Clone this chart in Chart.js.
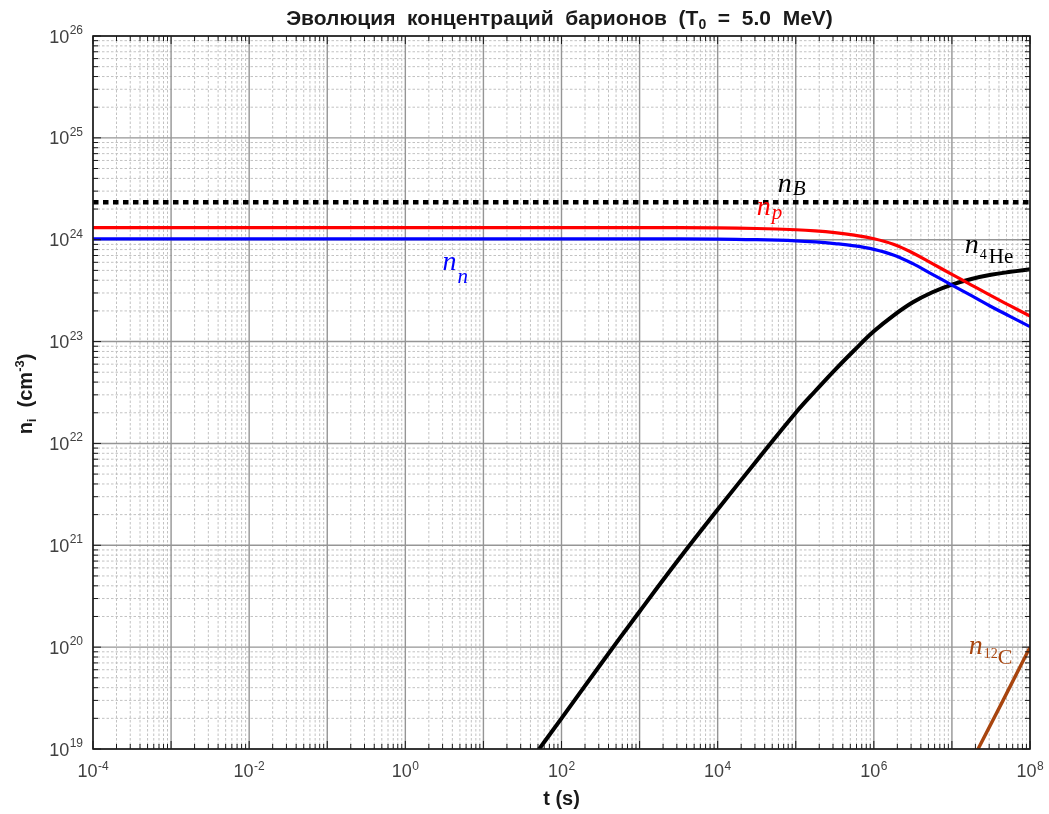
<!DOCTYPE html>
<html>
<head>
<meta charset="utf-8">
<script src="https://cdn.jsdelivr.net/npm/chart.js@4.4.1/dist/chart.umd.min.js"></script>
<style>
  html, body { margin: 0; padding: 0; background: #ffffff; }
  canvas { display: block; }
</style>
</head>
<body>
<canvas id="chart" width="1049" height="814"></canvas>
<script>
// ---- data: time in seconds, concentrations in cm^-3 ----
const tBaryon = [1e-4, 1e8];
const nBaryon = [2.33e24, 2.33e24];

const tProton = [1e-4, 1e3, 1e4, 3.16e4, 1e5, 1.78e5, 3.16e5, 5.62e5, 1e6, 1.78e6, 3.16e6, 5.62e6, 1e7, 1.78e7, 3.16e7, 5.62e7, 1e8];
const nProton = [1.315e24, 1.315e24, 1.306e24, 1.288e24, 1.253e24, 1.222e24, 1.175e24, 1.109e24, 1.023e24, 9.02e23, 7.41e23, 5.82e23, 4.57e23, 3.59e23, 2.82e23, 2.24e23, 1.78e23];

const tNeutron = [1e-4, 1e3, 1e4, 3.16e4, 1e5, 1.78e5, 3.16e5, 5.62e5, 1e6, 1.78e6, 3.16e6, 5.62e6, 1e7, 1.78e7, 3.16e7, 5.62e7, 1e8];
const nNeutron = [1.019e24, 1.019e24, 1.014e24, 1.0e24, 9.75e23, 9.51e23, 9.16e23, 8.71e23, 8.04e23, 7.08e23, 5.82e23, 4.57e23, 3.59e23, 2.82e23, 2.21e23, 1.76e23, 1.40e23];

const tHelium = [3.98e1, 1e2, 3.16e2, 1e3, 3.16e3, 1e4, 3.16e4, 1e5, 1.78e5, 3.16e5, 5.62e5, 1e6, 1.78e6, 3.16e6, 5.62e6, 1e7, 1.78e7, 3.16e7, 5.62e7, 1e8];
const nHelium = [7.59e18, 2.0e19, 6.76e19, 2.24e20, 7.24e20, 2.24e21, 6.76e21, 2.0e22, 3.27e22, 5.25e22, 8.22e22, 1.26e23, 1.80e23, 2.43e23, 3.05e23, 3.63e23, 4.12e23, 4.52e23, 4.84e23, 5.13e23];

const tCarbon = [2.0e7, 4.47e7, 1e8];
const nCarbon = [8.9e18, 2.95e19, 1.0e20];

// axis range (decade exponents)
const xExpRange = [-4, 8];
const yExpRange = [19, 26];
const xTickExps = [-4, -2, 0, 2, 4, 6, 8];
const yTickExps = [19, 20, 21, 22, 23, 24, 25, 26];

const COLORS = { baryon: '#000000', proton: '#ff0000', neutron: '#0000ff', helium: '#000000', carbon: '#a8450f' };

const toPoints = (ts, ns) => ts.map((t, i) => ({ x: t, y: ns[i] }));

// ---- grid, frame, tick marks and text drawn on the chart's scales ----
function axisValues(lo, hi) {
  const vals = [];
  for (let e = lo; e < hi; e++) {
    for (let m = 1; m <= 9; m++) vals.push({ v: m * Math.pow(10, e), major: m === 1 });
  }
  vals.push({ v: Math.pow(10, hi), major: true });
  return vals;
}

const gridPlugin = {
  id: 'logGrid',
  beforeDatasetsDraw(chart) {
    const { ctx, chartArea: a, scales: { x, y } } = chart;
    const xs = axisValues(xExpRange[0], xExpRange[1]);
    const ys = axisValues(yExpRange[0], yExpRange[1]);
    ctx.save();
    // minor grid
    ctx.strokeStyle = '#c2c2c2';
    ctx.lineWidth = 1;
    ctx.setLineDash([2.5, 2]);
    ctx.beginPath();
    xs.filter(d => !d.major).forEach(d => { const px = x.getPixelForValue(d.v); ctx.moveTo(px, a.top); ctx.lineTo(px, a.bottom); });
    ys.filter(d => !d.major).forEach(d => { const py = y.getPixelForValue(d.v); ctx.moveTo(a.left, py); ctx.lineTo(a.right, py); });
    ctx.stroke();
    // major grid
    ctx.setLineDash([]);
    ctx.strokeStyle = '#959595';
    ctx.lineWidth = 1.4;
    ctx.beginPath();
    xs.filter(d => d.major).forEach(d => { const px = x.getPixelForValue(d.v); ctx.moveTo(px, a.top); ctx.lineTo(px, a.bottom); });
    ys.filter(d => d.major).forEach(d => { const py = y.getPixelForValue(d.v); ctx.moveTo(a.left, py); ctx.lineTo(a.right, py); });
    ctx.stroke();
    ctx.restore();
  }
};

function drawRuns(ctx, runs, x, y) {
  // runs: [{text, font, dy, dx}] drawn left to right
  let cx = x;
  runs.forEach(r => {
    ctx.font = r.font;
    cx += (r.dx || 0);
    ctx.fillText(r.text, cx, y + (r.dy || 0));
    cx += ctx.measureText(r.text).width;
  });
  return cx;
}
function runsWidth(ctx, runs) {
  let w = 0;
  runs.forEach(r => { ctx.font = r.font; w += (r.dx || 0) + ctx.measureText(r.text).width; });
  return w;
}

const SANS = '"Liberation Sans", Arial, sans-serif';
const SERIF = '"Liberation Serif", "Times New Roman", serif';

const curveLabels = [
  { t: 5.9e4, n: 2.94e24, color: COLORS.baryon, runs: [
    { text: 'n', font: 'italic 28px ' + SERIF }, { text: 'B', font: 'italic 21px ' + SERIF, dy: 3, dx: 1 } ] },
  { t: 3.16e4, n: 1.75e24, color: COLORS.proton, runs: [
    { text: 'n', font: 'italic 28px ' + SERIF }, { text: 'p', font: 'italic 21px ' + SERIF, dy: 4, dx: 1 } ] },
  { t: 3.0, n: 5.0e23, color: COLORS.neutron, runs: [
    { text: 'n', font: 'italic 28px ' + SERIF }, { text: 'n', font: 'italic 21px ' + SERIF, dy: 13, dx: 1 } ] },
  { t: 1.46e7, n: 7.4e23, color: COLORS.helium, runs: [
    { text: 'n', font: 'italic 28px ' + SERIF }, { text: '4', font: '14px ' + SERIF, dy: 6, dx: 1 },
    { text: 'He', font: '21px ' + SERIF, dy: 10, dx: 2 } ] },
  { t: 1.64e7, n: 8.6e19, color: COLORS.carbon, runs: [
    { text: 'n', font: 'italic 28px ' + SERIF }, { text: '12', font: '14px ' + SERIF, dy: 4, dx: 1 },
    { text: 'C', font: '22px ' + SERIF, dy: 10, dx: 0 } ] }
];

const decorPlugin = {
  id: 'decor',
  afterDatasetsDraw(chart) {
    const { ctx, chartArea: a, scales: { x, y } } = chart;
    const xs = axisValues(xExpRange[0], xExpRange[1]);
    const ys = axisValues(yExpRange[0], yExpRange[1]);
    ctx.save();
    ctx.textBaseline = 'alphabetic';
    ctx.textAlign = 'left';

    // curve labels
    curveLabels.forEach(l => {
      ctx.fillStyle = l.color;
      drawRuns(ctx, l.runs, x.getPixelForValue(l.t), y.getPixelForValue(l.n));
    });

    // frame
    ctx.strokeStyle = '#1a1a1a';
    ctx.lineWidth = 1.6;
    ctx.strokeRect(a.left, a.top, a.right - a.left, a.bottom - a.top);

    // inward tick marks on all four sides
    ctx.lineWidth = 1;
    ctx.beginPath();
    xs.forEach(d => {
      const px = x.getPixelForValue(d.v), len = d.major ? 8 : 5;
      ctx.moveTo(px, a.bottom); ctx.lineTo(px, a.bottom - len);
      ctx.moveTo(px, a.top); ctx.lineTo(px, a.top + len);
    });
    ys.forEach(d => {
      const py = y.getPixelForValue(d.v), len = d.major ? 8 : 5;
      ctx.moveTo(a.left, py); ctx.lineTo(a.left + len, py);
      ctx.moveTo(a.right, py); ctx.lineTo(a.right - len, py);
    });
    ctx.stroke();

    // tick labels 10^k
    ctx.fillStyle = '#404040';
    const baseFont = '18px ' + SANS, supFont = '12px ' + SANS;
    xTickExps.forEach(e => {
      const runs = [{ text: '10', font: baseFont }, { text: String(e), font: supFont, dy: -7, dx: 0.5 }];
      const w = runsWidth(ctx, runs);
      drawRuns(ctx, runs, x.getPixelForValue(Math.pow(10, e)) - w / 2, a.bottom + 28);
    });
    yTickExps.forEach(e => {
      const runs = [{ text: '10', font: baseFont }, { text: String(e), font: supFont, dy: -8.5, dx: 0.5 }];
      const w = runsWidth(ctx, runs);
      drawRuns(ctx, runs, a.left - 10 - w, y.getPixelForValue(Math.pow(10, e)) + 6.5);
    });

    // title
    ctx.fillStyle = '#1a1a1a';
    const tb = 'bold 21px ' + SANS, ts = 'bold 14px ' + SANS;
    const titleRuns = [
      { text: 'Эволюция  концентраций  барионов  (T', font: tb },
      { text: '0', font: ts, dy: 4 },
      { text: '  =  5.0  MeV)', font: tb }
    ];
    const cxMid = (a.left + a.right) / 2;
    drawRuns(ctx, titleRuns, cxMid - 2 - runsWidth(ctx, titleRuns) / 2, 25);

    // x axis title
    const xt = [{ text: 't (s)', font: 'bold 20px ' + SANS }];
    drawRuns(ctx, xt, cxMid - runsWidth(ctx, xt) / 2, 805);

    // y axis title (rotated)
    const yt = [
      { text: 'n', font: 'bold 20px ' + SANS },
      { text: 'i', font: 'bold 13px ' + SANS, dy: 4 },
      { text: '  (cm', font: 'bold 20px ' + SANS },
      { text: '-3', font: 'bold 13px ' + SANS, dy: -8 },
      { text: ')', font: 'bold 20px ' + SANS }
    ];
    ctx.translate(32, 394);
    ctx.rotate(-Math.PI / 2);
    drawRuns(ctx, yt, -runsWidth(ctx, yt) / 2, 0);
    ctx.restore();
  }
};

const lineDefaults = { pointRadius: 0, fill: false, clip: 0, tension: 0.4 };

new Chart(document.getElementById('chart'), {
  type: 'line',
  data: {
    datasets: [
      { ...lineDefaults, tension: 0, label: 'n_B', data: toPoints(tBaryon, nBaryon), borderColor: COLORS.baryon, borderWidth: 4.5, borderDash: [5.5, 4.5], borderCapStyle: 'butt' },
      { ...lineDefaults, label: 'n_p', data: toPoints(tProton, nProton), borderColor: COLORS.proton, borderWidth: 3.2 },
      { ...lineDefaults, label: 'n_n', data: toPoints(tNeutron, nNeutron), borderColor: COLORS.neutron, borderWidth: 3.2 },
      { ...lineDefaults, label: 'n_4He', data: toPoints(tHelium, nHelium), borderColor: COLORS.helium, borderWidth: 4 },
      { ...lineDefaults, tension: 0, label: 'n_12C', data: toPoints(tCarbon, nCarbon), borderColor: COLORS.carbon, borderWidth: 3.4 }
    ]
  },
  options: {
    responsive: false,
    animation: false,
    devicePixelRatio: 1,
    layout: { padding: { left: 93, right: 19, top: 36, bottom: 65 } },
    plugins: { legend: { display: false }, title: { display: false }, tooltip: { enabled: false } },
    scales: {
      x: {
        type: 'logarithmic', min: Math.pow(10, xExpRange[0]), max: Math.pow(10, xExpRange[1]),
        grid: { display: false, drawTicks: false }, ticks: { display: false }, border: { display: false }
      },
      y: {
        type: 'logarithmic', min: Math.pow(10, yExpRange[0]), max: Math.pow(10, yExpRange[1]),
        grid: { display: false, drawTicks: false }, ticks: { display: false }, border: { display: false }
      }
    }
  },
  plugins: [gridPlugin, decorPlugin]
});
</script>
</body>
</html>
